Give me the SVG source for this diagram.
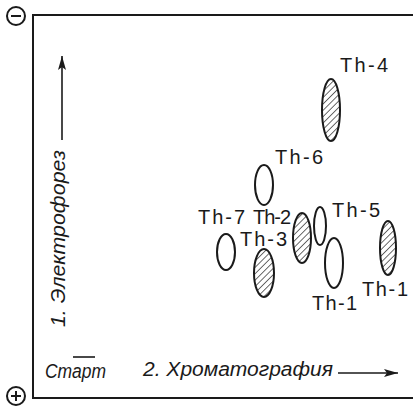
<svg xmlns="http://www.w3.org/2000/svg" width="413" height="412" viewBox="0 0 413 412">
<style>
.frame{fill:none;stroke:#1a1a1a;stroke-width:2}
.spot{stroke:#1a1a1a;stroke-width:2}
.open{fill:#fff}
.hatch{fill:url(#h)}
.lbl{font-family:"Liberation Sans",Arial,sans-serif;font-size:20px;fill:#1a1a1a}
.ax{font-family:"Liberation Sans",Arial,sans-serif;font-style:italic;font-size:20px;fill:#1a1a1a}
.ln{stroke:#1a1a1a;stroke-width:1.6;fill:none}
</style>
<defs>
<pattern id="h" patternUnits="userSpaceOnUse" width="4.5" height="4.5" patternTransform="rotate(45)">
<rect width="4.5" height="4.5" fill="#fff"/>
<line x1="0" y1="0" x2="0" y2="4.5" stroke="#1a1a1a" stroke-width="1.3"/>
</pattern>
<marker id="ah" viewBox="0 0 14 8" refX="14" refY="4" markerWidth="14" markerHeight="8" markerUnits="userSpaceOnUse" orient="auto">
<path d="M0,0 L14,4 L0,8 L3,4 Z" fill="#1a1a1a"/>
</marker>
</defs>
<g id="frame">
<polyline class="frame" points="413,15 33,15 33,398 413,398"/>
<circle class="frame" cx="16" cy="16" r="9"/>
<line class="frame" x1="11" y1="16" x2="21" y2="16"/>
<circle class="frame" cx="16" cy="396" r="9"/>
<line class="frame" x1="11" y1="396" x2="21" y2="396"/>
<line class="frame" x1="16" y1="391" x2="16" y2="401"/>
</g>
<g id="connectors">
<line class="ln" x1="62" y1="140" x2="62" y2="56" marker-end="url(#ah)"/>
<line class="ln" x1="338" y1="373" x2="398" y2="373" marker-end="url(#ah)"/>
<line class="ln" x1="73" y1="357" x2="95" y2="357"/>
</g>
<g id="axis-labels">
<text class="ax" transform="translate(65,327) rotate(-90)" textLength="177" lengthAdjust="spacingAndGlyphs">1. Электрофорез</text>
<text class="ax" x="45" y="378" textLength="61" lengthAdjust="spacingAndGlyphs">Старт</text>
<text class="ax" x="143" y="376" textLength="190" lengthAdjust="spacingAndGlyphs">2. Хроматография</text>
</g>
<g id="th4"><ellipse class="spot hatch" cx="331" cy="110" rx="9" ry="31"/><text class="lbl" x="340" y="72" textLength="48">Th-4</text></g>
<g id="th6"><ellipse class="spot open" cx="264" cy="185" rx="9" ry="20"/><text class="lbl" x="275" y="164" textLength="48">Th-6</text></g>
<g id="th7"><ellipse class="spot open" cx="226" cy="252" rx="9" ry="18"/><text class="lbl" x="198" y="224" textLength="47">Th-7</text></g>
<g id="th2"><ellipse class="spot hatch" cx="302" cy="238" rx="9" ry="25"/><text class="lbl" x="253" y="224" textLength="38">Th-2</text></g>
<g id="th3"><ellipse class="spot hatch" cx="264" cy="273" rx="10" ry="24"/><text class="lbl" x="240" y="246" textLength="47">Th-3</text></g>
<g id="th5"><ellipse class="spot open" cx="320" cy="226" rx="6" ry="19"/><text class="lbl" x="332" y="217" textLength="48">Th-5</text></g>
<g id="th1a"><ellipse class="spot open" cx="334" cy="263" rx="9" ry="25"/><text class="lbl" x="312" y="310" textLength="45">Th-1</text></g>
<g id="th1b"><ellipse class="spot hatch" cx="388" cy="248" rx="8" ry="27"/><text class="lbl" x="362" y="296" textLength="46">Th-1</text></g>
</svg>
